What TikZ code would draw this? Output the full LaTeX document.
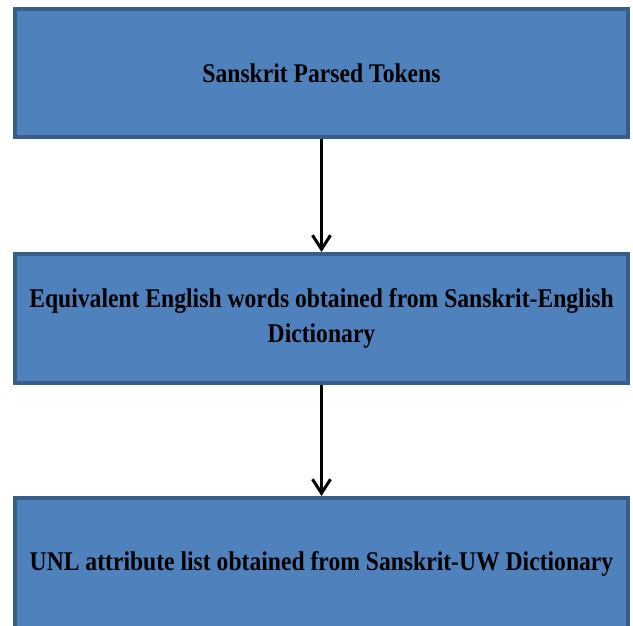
\documentclass[tikz,border=0pt]{standalone}
\usepackage{fontspec}
\setmainfont{Liberation Serif}[FakeStretch=0.875]
\usetikzlibrary{arrows.meta}
\definecolor{boxfill}{HTML}{4F81BD}
\definecolor{boxline}{HTML}{385D8A}
\begin{document}
\begin{tikzpicture}[x=1pt,y=1pt,
  flowbox/.style={draw=boxline, line width=4pt, fill=boxfill, minimum width=613pt,
    align=center, inner sep=0pt, font=\bfseries\fontsize{27}{35}\selectfont},
  flowarrow/.style={line width=3pt, -{Straight Barb[length=14pt,width=18pt,line width=3pt]}}]
\useasboundingbox (0,0) rectangle (633,625);
\node[flowbox, minimum height=128pt] (a) at (321.5,552) {Sanskrit Parsed Tokens};
\node[flowbox, minimum height=129pt] (b) at (321.5,306.5) {Equivalent English words obtained from Sanskrit-English\\Dictionary};
\node[flowbox, minimum height=131pt] (c) at (321.5,61.5) {UNL attribute list obtained from Sanskrit-UW Dictionary};
\draw[flowarrow] (a.south) -- (b.north);
\draw[flowarrow] (b.south) -- (c.north);
\end{tikzpicture}
\end{document}
